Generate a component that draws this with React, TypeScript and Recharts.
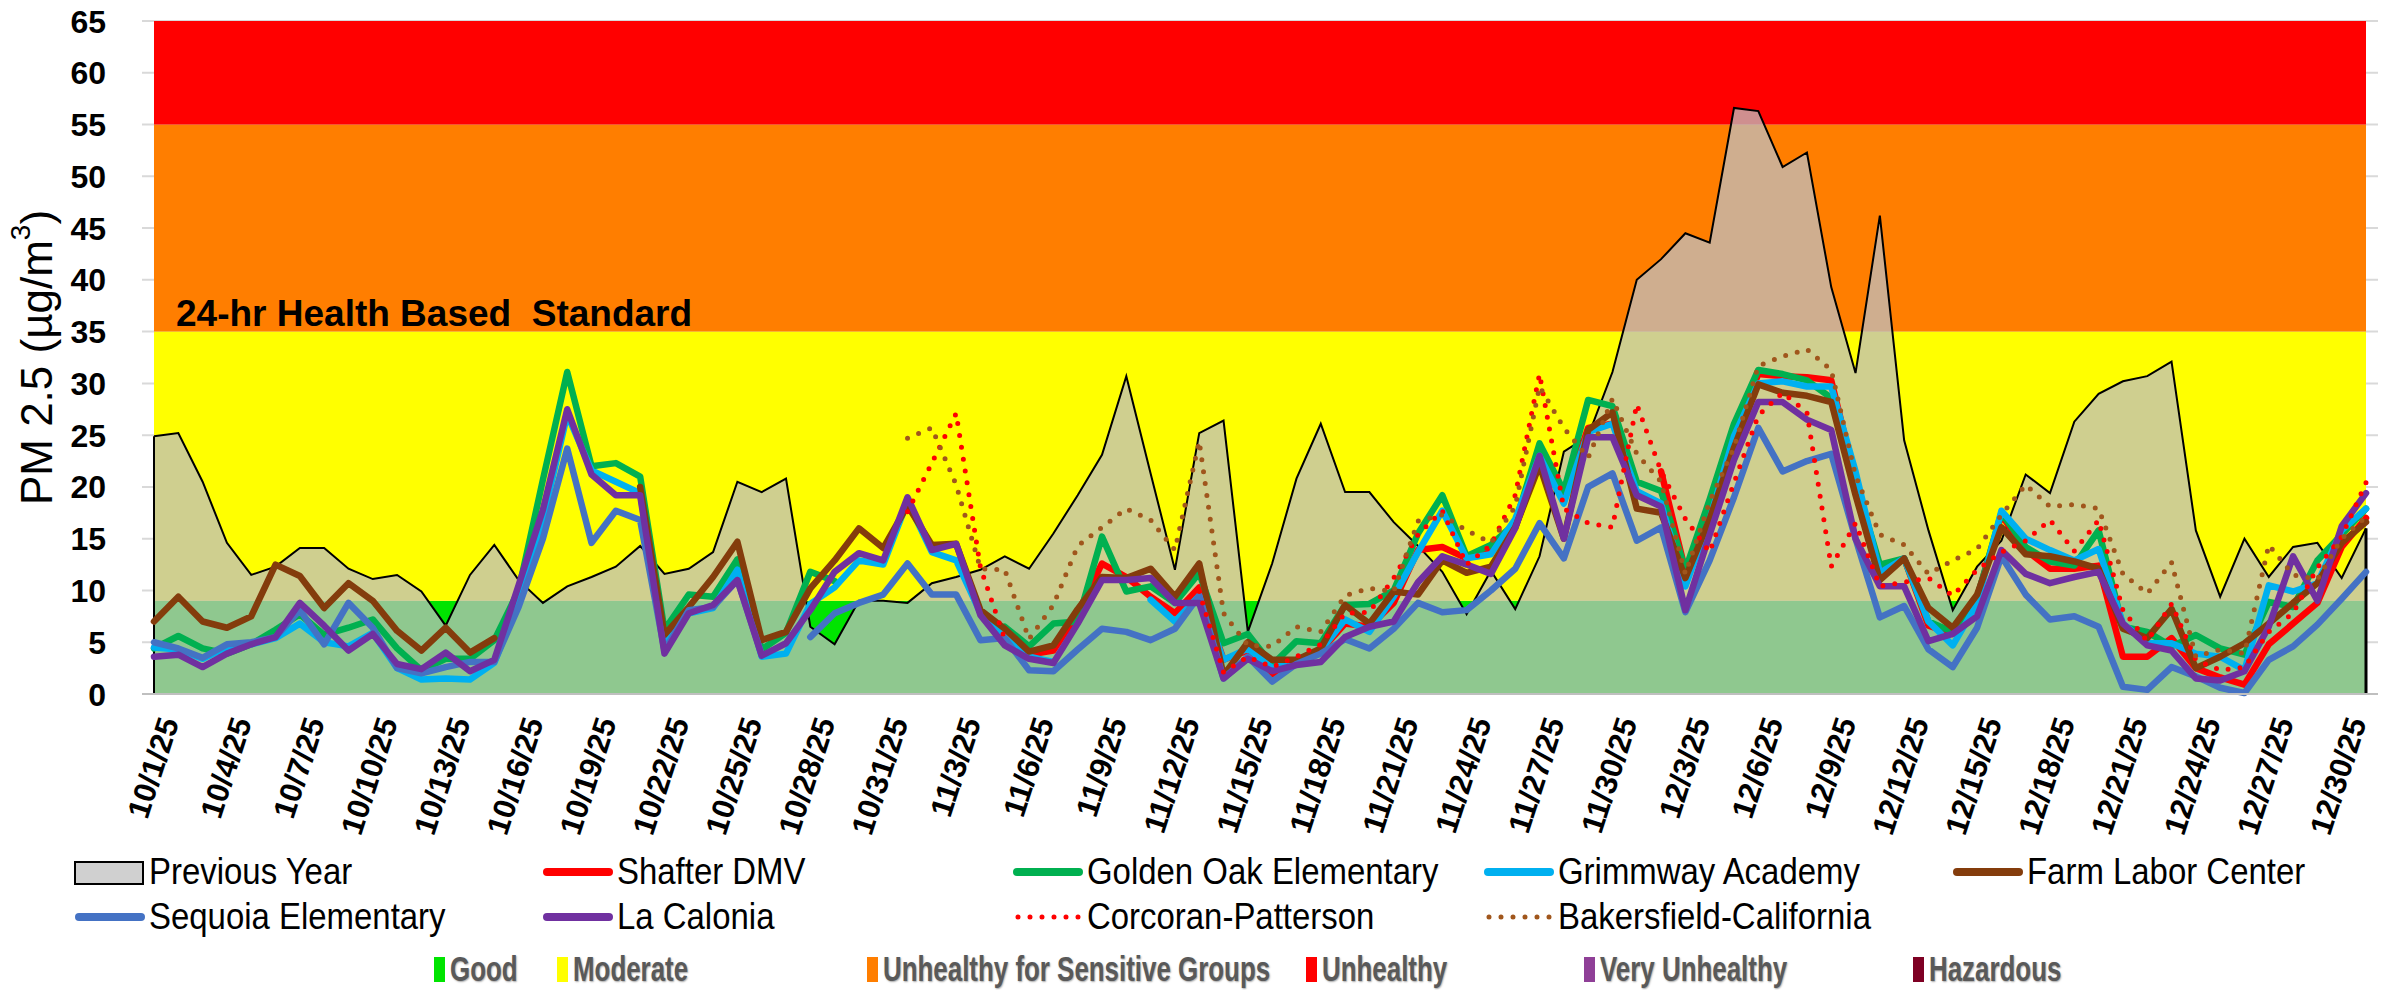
import React from 'react';
import {
  ComposedChart,
  Area,
  Line,
  XAxis,
  YAxis,
  CartesianGrid,
  ReferenceArea,
  ReferenceLine,
} from 'recharts';

const N = null;

// one label per day, 10/1/25 .. 12/31/25
const monthDays: [number, number][] = [[10, 31], [11, 30], [12, 31]];
const dates: string[] = [];
monthDays.forEach(([m, days]) => {
  for (let d = 1; d <= days; d++) dates.push(`${m}/${d}/25`);
});

const yTicks = [0, 5, 10, 15, 20, 25, 30, 35, 40, 45, 50, 55, 60, 65];

const previousYear = [
  24.9, 25.2, 20.5, 14.6, 11.5, 12.3, 14.1, 14.1, 12.1, 11.1,
  11.5, 9.9, 6.6, 11.5, 14.4, 11.0, 8.8, 10.4, 11.3, 12.3,
  14.3, 11.6, 12.1, 13.7, 20.5, 19.5, 20.8, 6.5, 4.8, 9.0,
  9.0, 8.8, 10.7, 11.3, 12.0, 13.3, 12.1, 15.5, 19.2, 23.1,
  30.7, 21.3, 12.0, 25.2, 26.4, 6.0, 12.6, 20.8, 26.1, 19.5,
  19.5, 16.6, 14.3, 11.8, 7.7, 11.9, 8.2, 13.3, 23.4, 24.9,
  31.1, 40.0, 42.0, 44.5, 43.6, 56.6, 56.3, 50.9, 52.3, 39.3,
  31.0, 46.2, 24.5, 15.8, 8.1, 12.3, 14.8, 21.2, 19.4, 26.3,
  29.0, 30.2, 30.7, 32.1, 15.8, 9.4, 15.0, 11.3, 14.2, 14.6,
  11.2, 16.0,
];

const shafterDmv = [
  N, N, N, N, N, N, N, N, N, N,
  N, N, N, N, N, N, N, N, N, N,
  N, N, N, N, N, N, N, N, N, N,
  N, N, N, N, N, N, 3.8, 4.2, 7.8, 12.6,
  11.3, 9.4, 7.8, 10.3, 3.3, 4.2, 1.9, 3.3, 4.2, 6.8,
  6.5, 8.8, 13.9, 14.2, 13.1, 13.9, 16.1, 22.6, 18.8, 25.7,
  26.1, N, 21.5, 11.9, 17.5, 25.0, 30.9, 30.7, 30.6, 30.3,
  20.7, 11.9, 13.1, 6.6, 5.8, 9.3, 17.3, 13.9, 12.1, 12.1,
  12.4, 3.6, 3.6, 5.4, 2.5, 1.6, 0.9, 4.8, 6.8, 8.8,
  14.2, 17.0,
];

const goldenOak = [
  4.4, 5.6, 4.4, 3.9, 4.8, 6.2, 7.7, 5.7, 6.4, 7.2,
  4.4, 2.3, 3.4, 3.4, 5.2, 10.0, 20.7, 31.1, 22.0, 22.3,
  21.0, 6.2, 9.6, 9.4, 13.0, 4.3, 5.9, 11.8, 10.9, N,
  N, N, N, N, N, 6.5, 4.6, 6.8, 7.0, 15.2,
  9.9, 10.4, 8.8, 11.7, 4.9, 5.8, 2.8, 5.1, 4.9, 8.6,
  8.7, 10.0, 15.5, 19.2, 13.3, 14.4, 16.5, 24.2, 19.6, 28.4,
  27.8, 20.5, 19.6, 12.0, 18.8, 26.1, 31.3, 30.9, 30.3, 28.6,
  20.4, 12.5, 13.1, 7.0, 6.0, 9.3, 17.5, 14.2, 12.8, 12.4,
  15.8, 6.5, 6.0, 4.6, 5.7, 4.4, 3.8, 8.9, 8.4, 12.9,
  15.4, 17.9,
];

const grimmway = [
  4.5, 4.3, 3.4, 4.5, 4.8, 5.4, 6.8, 5.0, 4.6, 5.9,
  2.5, 1.4, 1.5, 1.4, 3.0, 9.0, 16.9, 27.0, 21.6, 20.5,
  19.4, 4.9, 7.8, 8.3, 12.0, 3.6, 3.9, 8.7, 10.3, 12.9,
  12.5, 18.6, 13.7, 12.9, 7.8, 5.4, 3.6, 3.1, N, N,
  N, 9.1, 7.0, 9.5, 3.3, 4.4, 2.5, 3.1, 4.2, 7.2,
  6.0, 9.4, 13.7, 17.7, 13.1, 13.5, 16.9, 23.0, 18.4, 25.3,
  26.1, 19.6, 18.4, 10.4, 16.9, 24.9, 30.0, 30.2, 29.7, 29.7,
  21.5, 11.7, 13.1, 7.0, 4.7, 8.7, 17.7, 15.0, 13.9, 12.9,
  14.0, 6.8, 4.9, 4.9, 3.9, 3.6, 2.3, 10.5, 9.9, 10.7,
  15.8, 17.9,
];

const farmLabor = [
  7.0, 9.4, 7.0, 6.4, 7.5, 12.5, 11.4, 8.3, 10.7, 9.0,
  6.1, 4.2, 6.4, 4.0, 5.4, N, N, N, N, N,
  20.0, 5.7, 8.4, 11.3, 14.7, 5.2, 6.0, 10.2, 12.9, 16.0,
  14.1, 18.2, 14.4, 14.5, 8.1, 6.3, 4.1, 4.7, 8.2, 11.3,
  11.2, 12.1, 9.4, 12.6, 1.8, 5.0, 3.3, 3.3, 4.4, 8.6,
  6.8, 9.9, 9.6, 12.9, 11.7, 12.3, 16.1, 22.1, 15.0, 25.5,
  27.2, 17.9, 17.5, 11.2, 16.9, 23.8, 29.9, 29.1, 28.8, 28.2,
  19.2, 11.0, 13.1, 8.3, 6.4, 9.6, 16.1, 13.5, 13.3, 12.8,
  12.1, 6.3, 5.4, 8.2, 2.5, 3.6, 4.9, 6.8, 8.8, 10.7,
  14.6, 16.6,
];

const sequoia = [
  5.0, 4.4, 3.5, 4.8, 5.0, 5.5, 8.1, 4.8, 8.8, 6.4,
  2.5, 2.0, 2.6, 3.1, 3.1, 8.4, 15.0, 23.7, 14.6, 17.7,
  16.8, 4.2, 8.1, 8.4, 11.0, 3.8, N, 5.5, 7.8, 8.8,
  9.6, 12.6, 9.6, 9.6, 5.2, 5.4, 2.3, 2.2, 4.3, 6.3,
  6.0, 5.2, 6.3, 9.5, 1.5, 3.6, 1.2, 2.9, 3.9, 5.3,
  4.4, 6.3, 8.8, 7.9, 8.1, 10.0, 12.1, 16.5, 13.1, 20.0,
  21.3, 14.8, 16.1, 7.9, 12.9, 19.0, 25.7, 21.5, 22.5, 23.2,
  15.0, 7.4, 8.5, 4.3, 2.6, 6.4, 13.3, 9.6, 7.2, 7.5,
  6.5, 0.7, 0.4, 2.6, 1.7, 0.6, 0.1, 3.3, 4.6, 6.7,
  9.2, 11.8,
];

const laCalonia = [
  3.6, 3.8, 2.6, 3.9, 4.8, 5.5, 8.8, 6.6, 4.2, 5.8,
  2.9, 2.4, 4.0, 2.2, 3.3, 10.5, 17.8, 27.5, 21.2, 19.2,
  19.2, 3.9, 7.8, 8.6, 11.0, 3.7, 4.9, 8.1, 11.8, 13.6,
  12.9, 19.0, 13.9, 14.5, 7.6, 4.7, 3.4, 3.0, 6.8, 11.0,
  11.0, 11.2, 8.8, 8.8, 1.5, 3.4, 2.2, 2.8, 3.1, 5.5,
  6.5, 7.0, 10.8, 13.3, 12.5, 11.6, 16.0, 23.0, 15.0, 24.8,
  24.8, 19.2, 18.1, 8.1, 15.4, 22.6, 28.2, 28.2, 26.5, 25.5,
  15.0, 10.4, 10.4, 5.1, 5.8, 7.5, 13.9, 11.6, 10.7, 11.3,
  11.8, 6.8, 4.7, 4.2, 1.5, 1.3, 2.2, 6.5, 13.3, 9.0,
  16.2, 19.4,
];

const corcoranPatterson = [
  N, N, N, N, N, N, N, N, N, N,
  N, N, N, N, N, N, N, N, N, N,
  N, N, N, N, N, N, N, N, N, N,
  N, 17.6, 22.3, 27.1, 12.2, 5.3, N, N, N, N,
  N, N, N, 9.9, 2.1, 3.6, 2.6, 3.6, 4.8, 7.8,
  7.9, 11.2, 15.4, 17.7, 12.5, 14.4, 19.2, 30.9, 17.9, 16.5,
  16.1, 28.0, 21.5, 16.9, 13.7, 20.4, 26.9, 29.1, 27.2, 12.3,
  16.5, 10.4, 10.8, 11.2, 9.5, 12.0, 13.7, 14.8, 16.8, 13.8,
  16.8, 8.1, 5.1, 8.7, 3.3, 2.3, 2.6, 6.0, 7.8, 12.2,
  15.2, 20.4,
];

const bakersfieldCalifornia = [
  N, N, N, N, N, N, N, N, N, N,
  N, N, N, N, N, N, N, N, N, N,
  N, N, N, N, N, N, N, N, N, N,
  N, 24.7, 25.7, 20.2, 12.1, 12.0, 5.3, 8.6, 14.3, 16.1,
  17.9, 16.8, 13.9, 24.4, 7.8, 4.7, 4.6, 6.5, 6.0, 9.5,
  10.2, 9.9, 16.7, 17.3, 15.8, 14.6, 18.1, 29.7, 25.7, 22.8,
  28.5, 23.2, 20.5, 11.6, 18.6, 23.8, 31.7, 32.6, 33.3, 31.3,
  21.1, 15.4, 14.4, 11.6, 12.9, 14.0, 17.3, 20.2, 18.1, 18.3,
  17.9, 11.6, 9.7, 12.7, 3.6, 4.3, 3.9, 14.4, 11.5, 11.1,
  15.0, 17.1,
];

const aqiBands = [
  { name: 'Good', from: 0, to: 9, color: '#00E400' },
  { name: 'Moderate', from: 9, to: 35, color: '#FFFF00' },
  { name: 'Unhealthy for Sensitive Groups', from: 35, to: 55, color: '#FF7E00' },
  { name: 'Unhealthy', from: 55, to: 65, color: '#FF0000' },
];

const aqiLegend = [
  { name: 'Good', color: '#00E400' },
  { name: 'Moderate', color: '#FFFF00' },
  { name: 'Unhealthy for Sensitive Groups', color: '#FF7E00' },
  { name: 'Unhealthy', color: '#FF0000' },
  { name: 'Very Unhealthy', color: '#8F3F97' },
  { name: 'Hazardous', color: '#7E0023' },
];

const stations = [
  { key: 'shafter', name: 'Shafter DMV', color: '#FF0000', dotted: false },
  { key: 'golden', name: 'Golden Oak Elementary', color: '#00B050', dotted: false },
  { key: 'grimmway', name: 'Grimmway Academy', color: '#00B0F0', dotted: false },
  { key: 'farm', name: 'Farm Labor Center', color: '#843C0C', dotted: false },
  { key: 'sequoia', name: 'Sequoia Elementary', color: '#4472C4', dotted: false },
  { key: 'calonia', name: 'La Calonia', color: '#7030A0', dotted: false },
  { key: 'corcoran', name: 'Corcoran-Patterson', color: '#FF0000', dotted: true },
  { key: 'bakersfield', name: 'Bakersfield-California', color: '#A0561C', dotted: true },
];

const data = dates.map((date, i) => ({
  date,
  prev: previousYear[i],
  shafter: shafterDmv[i],
  golden: goldenOak[i],
  grimmway: grimmway[i],
  farm: farmLabor[i],
  sequoia: sequoia[i],
  calonia: laCalonia[i],
  corcoran: corcoranPatterson[i],
  bakersfield: bakersfieldCalifornia[i],
}));

const DateTick = (props: any) => {
  const { x, y, payload } = props;
  return (
    <g transform={`translate(${x + 4},${y + 21}) rotate(-72)`}>
      <text x={0} y={0} dy="0.72em" textAnchor="end" fontFamily="Liberation Sans, Arial" fontWeight={700} fontSize={31} fill="#000">
        {payload.value}
      </text>
    </g>
  );
};

const ValueTick = (props: any) => {
  const { x, y, payload } = props;
  return (
    <text x={x} y={y} dy="0.36em" textAnchor="end" fontFamily="Liberation Sans, Arial" fontWeight={700} fontSize={32} fill="#000">
      {payload.value}
    </text>
  );
};

const YTitle = (props: any) => {
  const vb = props.viewBox;
  const cx = vb.x + 36;
  const cy = vb.y + vb.height / 2;
  return (
    <text
      x={cx}
      y={cy}
      transform={`rotate(-90 ${cx} ${cy})`}
      textAnchor="middle"
      dominantBaseline="central"
      fontFamily="Liberation Sans, Arial"
      fontSize={44}
      fill="#000"
    >
      PM 2.5 (µg/m<tspan dy={-16} fontSize={28}>3</tspan><tspan dy={16}>)</tspan>
    </text>
  );
};

// text sitting on the 35 µg/m3 line
const StandardLabel = (props: any) => {
  const vb = props.viewBox;
  return (
    <text
      x={vb.x + 22}
      y={vb.y + vb.height - 6}
      fontFamily="Liberation Sans, Arial"
      fontWeight={700}
      fontSize={37}
      fill="#000"
      style={{ whiteSpace: 'pre' }}
    >
      {'24-hr Health Based  Standard'}
    </text>
  );
};

const LineIcon = ({ color, dotted }: { color: string; dotted: boolean }) => (
  <svg width={72} height={14} style={{ display: 'block' }}>
    {dotted ? (
      <line x1={6} y1={7} x2={68} y2={7} stroke={color} strokeWidth={5} strokeLinecap="round" strokeDasharray="0 12" />
    ) : (
      <line x1={5} y1={7} x2={67} y2={7} stroke={color} strokeWidth={8} strokeLinecap="round" />
    )}
  </svg>
);

const legendText: React.CSSProperties = {
  position: 'absolute',
  fontFamily: 'Liberation Sans, Arial',
  fontSize: 37,
  lineHeight: '42px',
  color: '#000',
  whiteSpace: 'nowrap',
  transform: 'scaleX(0.89)',
  transformOrigin: 'left center',
};

const App: React.FC = () => {
  const iconX = [74, 542, 1012, 1483, 1952];
  const rowY = [872, 917];
  const rows = [
    [{ box: true, name: 'Previous Year' }, stations[0], stations[1], stations[2], stations[3]],
    [stations[4], stations[5], stations[6], stations[7]],
  ];
  const aqiX = [434, 557, 867, 1306, 1584, 1913];

  return (
    <div style={{ position: 'fixed', left: 0, top: 0, width: 2386, height: 990, background: '#fff', overflow: 'hidden' }}>
      <ComposedChart width={2386} height={844} data={data} margin={{ top: 21, right: 8, bottom: 0, left: 0 }}>
        <CartesianGrid vertical={false} stroke="#D9D9D9" strokeWidth={2} />
        {aqiBands.map((b) => (
          <ReferenceArea
            key={b.name}
            x1={dates[0]}
            x2={dates[dates.length - 1]}
            y1={b.from}
            y2={b.to}
            fill={b.color}
            fillOpacity={1}
            stroke="none"
            ifOverflow="visible"
            label={b.from === 35 ? StandardLabel : undefined}
          />
        ))}
        <XAxis
          dataKey="date"
          scale="point"
          padding={{ left: 12, right: 12 }}
          interval={2}
          tickLine={false}
          tickSize={0}
          tickMargin={0}
          height={150}
          axisLine={{ stroke: '#BFBFBF', strokeWidth: 2 }}
          tick={<DateTick />}
        />
        <YAxis
          domain={[0, 65]}
          ticks={yTicks}
          width={142}
          tickLine={false}
          axisLine={false}
          tickSize={0}
          tickMargin={36}
          tick={<ValueTick />}
          label={YTitle}
        />
        <Area
          type="linear"
          dataKey="prev"
          name="Previous Year"
          stroke="#000"
          strokeWidth={2}
          fill="#BFBFBF"
          fillOpacity={0.75}
          dot={false}
          activeDot={false}
          isAnimationActive={false}
        />
        <ReferenceLine
          segment={[{ x: dates[0], y: 0 }, { x: dates[0], y: previousYear[0] }]}
          stroke="#000"
          strokeWidth={2}
        />
        <ReferenceLine
          segment={[
            { x: dates[dates.length - 1], y: 0 },
            { x: dates[dates.length - 1], y: previousYear[previousYear.length - 1] },
          ]}
          stroke="#000"
          strokeWidth={3}
        />
        {stations.map((s) => (
          <Line
            key={s.key}
            type="linear"
            dataKey={s.key}
            name={s.name}
            stroke={s.color}
            strokeWidth={s.dotted ? 5 : 6.5}
            strokeDasharray={s.dotted ? '0 12' : undefined}
            strokeLinecap="round"
            strokeLinejoin="round"
            dot={false}
            activeDot={false}
            connectNulls={false}
            isAnimationActive={false}
          />
        ))}
      </ComposedChart>

      {rows.map((row, r) =>
        row.map((item: any, c) => (
          <React.Fragment key={`${r}-${c}`}>
            <div style={{ position: 'absolute', left: iconX[c], top: rowY[r] - (item.box ? 11 : 7) }}>
              {item.box ? (
                <div style={{ width: 66, height: 20, background: '#D0D0D0', border: '2px solid #000' }} />
              ) : (
                <LineIcon color={item.color} dotted={item.dotted} />
              )}
            </div>
            <div style={{ ...legendText, left: iconX[c] + 75, top: rowY[r] - 21 }}>{item.name}</div>
          </React.Fragment>
        ))
      )}

      {aqiLegend.map((a, i) => (
        <React.Fragment key={a.name}>
          <div style={{ position: 'absolute', left: aqiX[i], top: 957, width: 11, height: 25, background: a.color }} />
          <div
            style={{
              position: 'absolute',
              left: aqiX[i] + 16,
              top: 949,
              fontFamily: 'Liberation Sans, Arial',
              fontWeight: 700,
              fontSize: 35,
              lineHeight: '40px',
              color: '#595959',
              textShadow: '1px 1px 2px rgba(0,0,0,0.35)',
              whiteSpace: 'nowrap',
              transform: 'scaleX(0.74)',
              transformOrigin: 'left center',
            }}
          >
            {a.name}
          </div>
        </React.Fragment>
      ))}
    </div>
  );
};

export default App;
